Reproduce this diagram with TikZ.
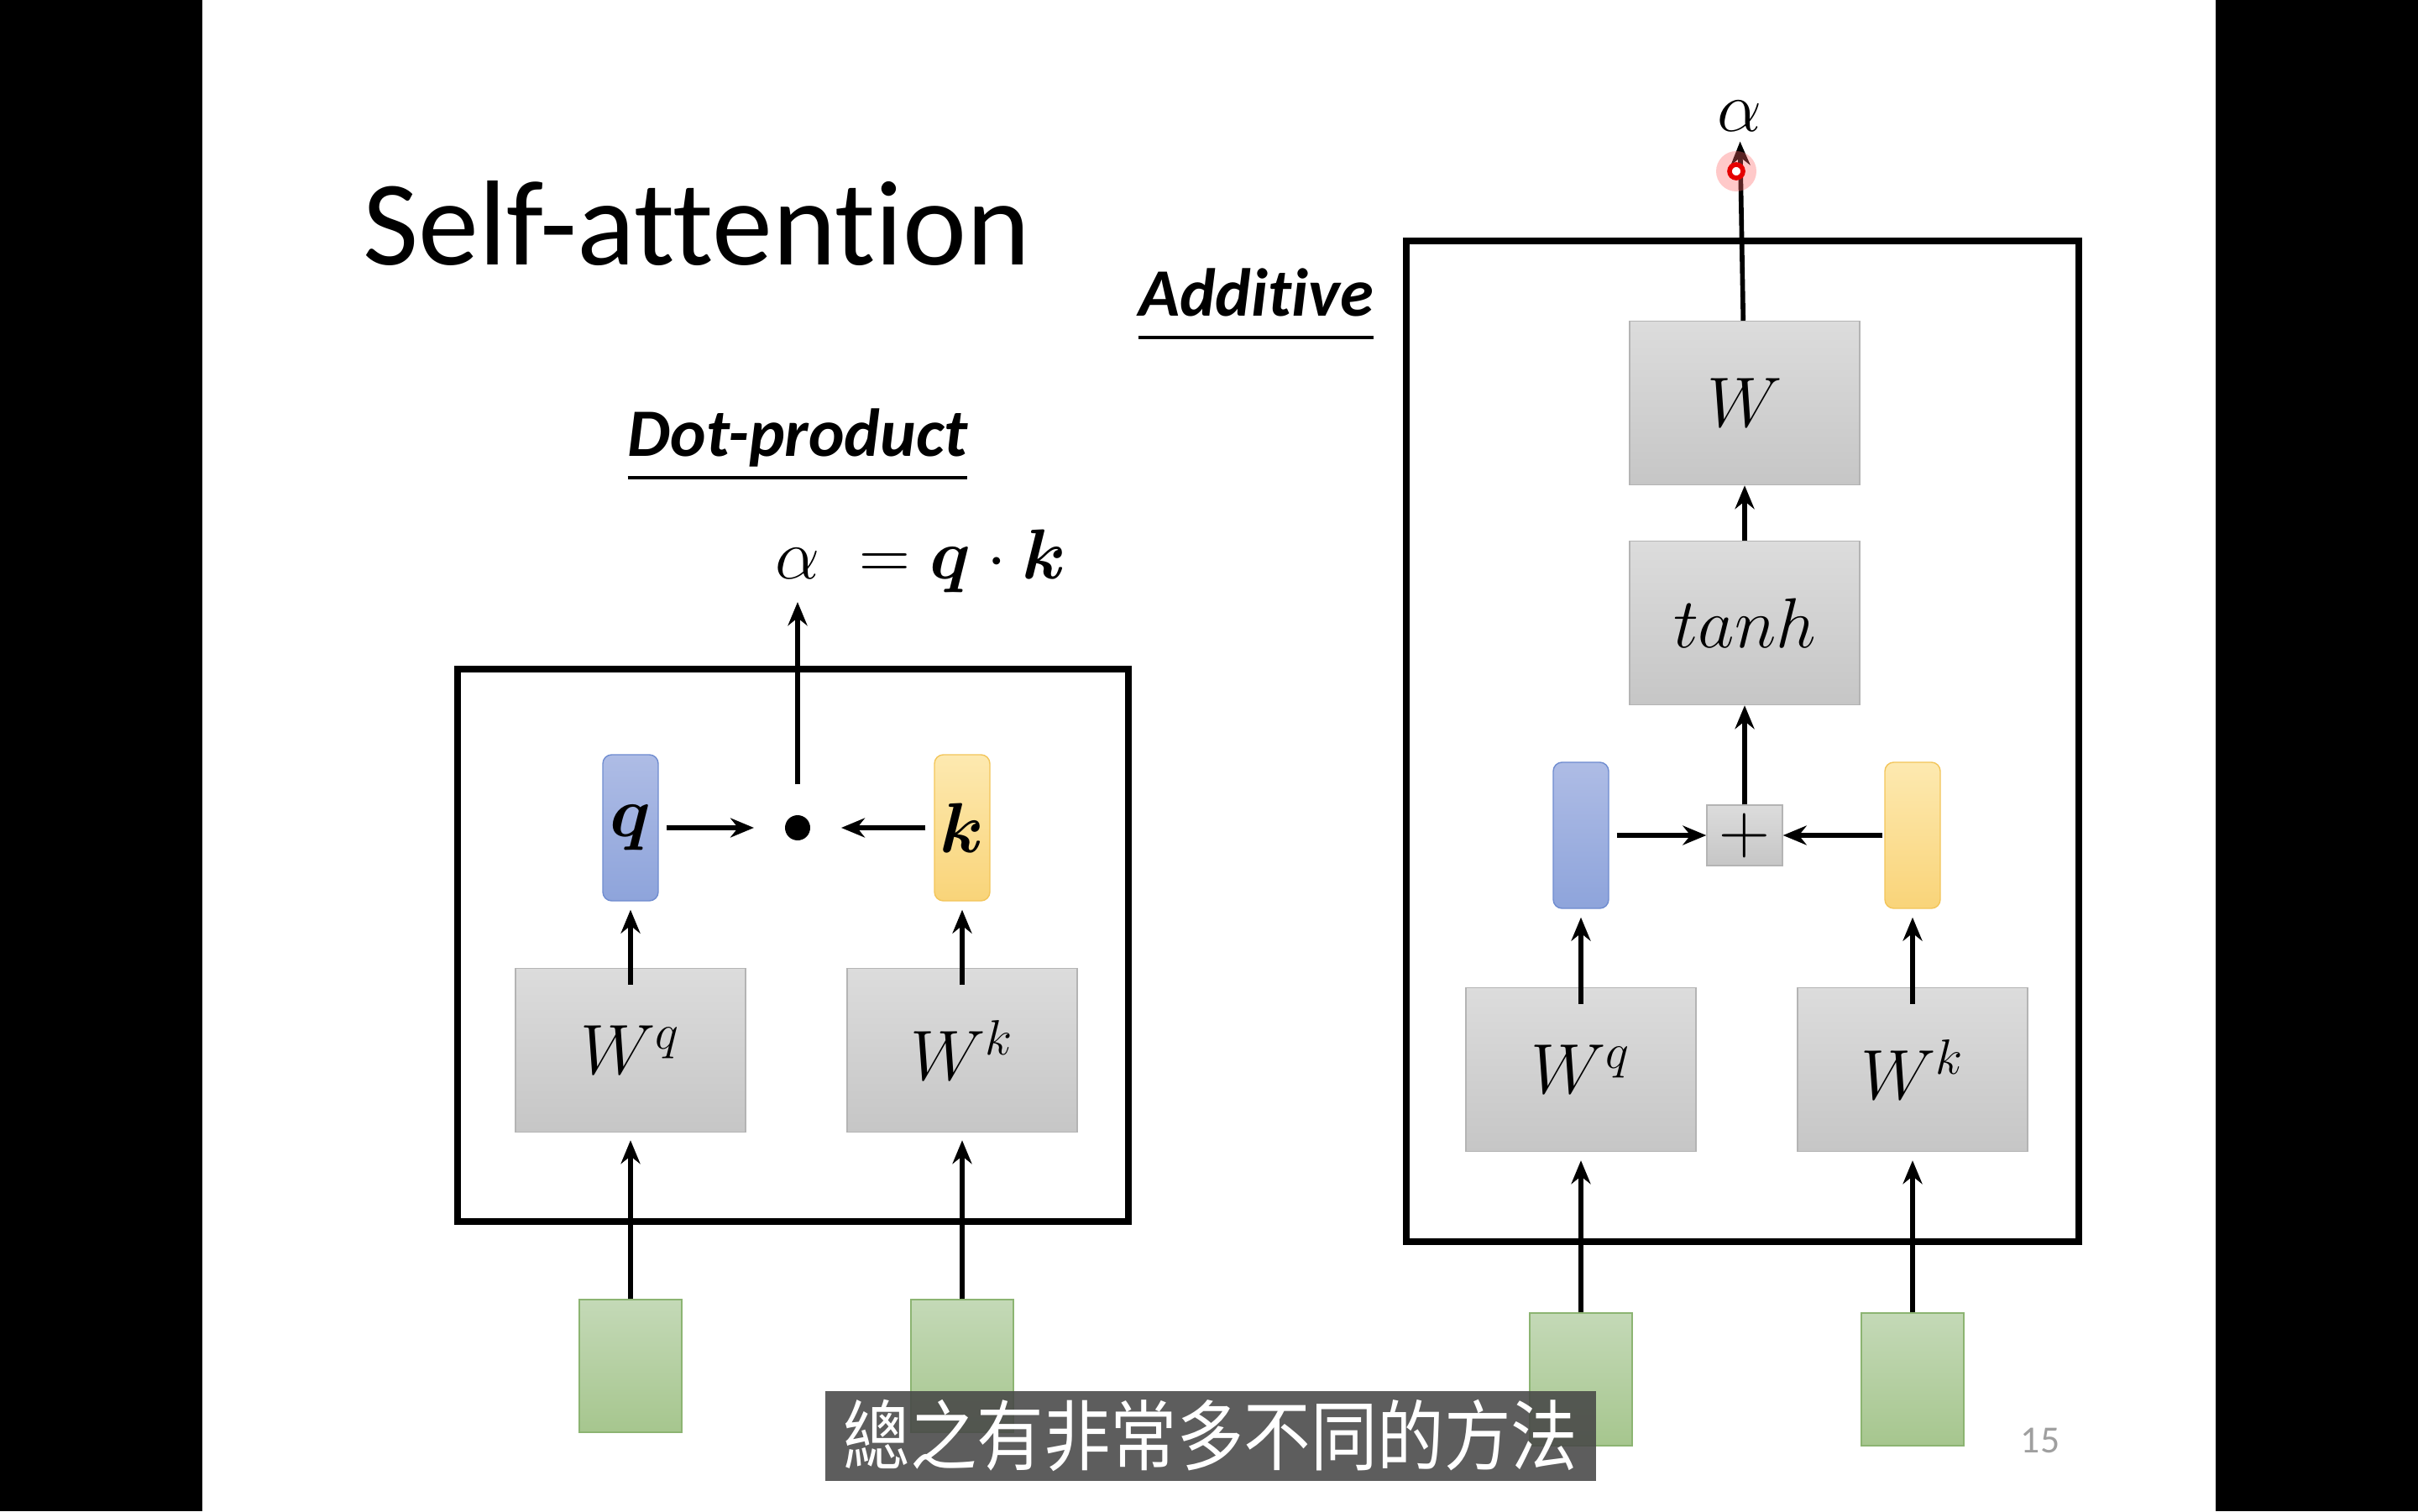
\documentclass[tikz,border=0pt]{standalone}
\usepackage{fix-cm}
\usepackage{amsmath}
\usepackage{bm}
\usepackage[no-math]{fontspec}
\setmainfont{Carlito}[Ligatures=NoCommon]
\newfontfamily\cjk{Noto Sans CJK TC}
\usepackage{tikz}
\usetikzlibrary{arrows.meta, positioning, calc}
\definecolor{graytop}{HTML}{DCDCDC}
\definecolor{graybot}{HTML}{C6C6C6}
\definecolor{grayline}{HTML}{B4B4B4}
\definecolor{qtop}{HTML}{AEBCE5}
\definecolor{qbot}{HTML}{8EA4DB}
\definecolor{qline}{HTML}{6F8CD0}
\definecolor{ktop}{HTML}{FDE9B0}
\definecolor{kbot}{HTML}{F9D479}
\definecolor{kline}{HTML}{F3C55A}
\definecolor{xtop}{HTML}{C4D9B7}
\definecolor{xbot}{HTML}{A6C68E}
\definecolor{xline}{HTML}{8CB472}
\newcommand{\mathbig}{\fontsize{24}{28}\selectfont}
\tikzstyle{weight} = [rectangle, draw=grayline, top color=graytop, bottom color=graybot, minimum width=2.74cm, minimum height=1.95cm, font=\mathbig]
\tikzstyle{qvec} = [rectangle, rounded corners=3pt, draw=qline, top color=qtop, bottom color=qbot, minimum width=0.66cm, minimum height=1.74cm, inner sep=0pt, font=\mathbig]
\tikzstyle{kvec} = [rectangle, rounded corners=3pt, draw=kline, top color=ktop, bottom color=kbot, minimum width=0.66cm, minimum height=1.74cm, inner sep=0pt, font=\mathbig]
\tikzstyle{inputbox} = [rectangle, draw=xline, top color=xtop, bottom color=xbot, minimum width=1.22cm, minimum height=1.58cm]
\tikzstyle{addbox} = [rectangle, draw=grayline, top color=graytop, bottom color=graybot, minimum width=0.9cm, minimum height=0.72cm, inner sep=0pt, font=\mathbig]
\tikzstyle{dotprod} = [circle, fill=black, inner sep=0pt, minimum size=0.3cm, outer sep=0.37cm]
\tikzstyle{flow} = [-{Stealth[length=2.8mm, width=2.3mm]}, line width=1.6pt]
\tikzstyle{fromweight} = [flow, shorten <=-0.2cm, shorten >=0.1cm]
\tikzstyle{outerbox} = [draw, line width=2.2pt]

\begin{document}
\begin{tikzpicture}
    \useasboundingbox (0,0) rectangle (28.8,18);
    % Slide
    \fill[black] (0,0) rectangle (28.8,18);
    \fill[white] (2.41,0) rectangle (26.39,18);

    % Titles
    \node[anchor=base west, inner sep=0pt, font=\fontsize{41}{48}\selectfont] (title) at (4.32,14.84) {Self-attention};
    \node[anchor=base, inner sep=0pt, font=\fontsize{23}{28}\selectfont\bfseries\itshape] (dotname) at (9.50,12.56) {\underline{Dot-product}};
    \node[anchor=base, inner sep=0pt, font=\fontsize{23}{28}\selectfont\bfseries\itshape] (addname) at (14.96,14.23) {\underline{Additive\vphantom{p}}};

    % Dot-product
    \draw[outerbox] (5.45,3.45) rectangle (13.44,10.03);
    \node[inputbox] (x1) at (7.51,1.73) {};
    \node[inputbox] (x2) at (11.46,1.73) {};
    \node[weight] (wq1) at (7.51,5.49) {$W^q$};
    \node[weight] (wk1) at (11.46,5.49) {$W^k$};
    \node[qvec] (q1) at (7.51,8.14) {$\bm{q}$};
    \node[kvec] (k1) at (11.46,8.14) {$\bm{k}$};
    \node[dotprod] (dot1) at (9.50,8.14) {};
    \node[anchor=base west, inner sep=0pt, font=\mathbig] (alpha1) at (9.23,11.10) {$\alpha\;=\bm{q}\cdot\bm{k}$};

    \draw[flow, shorten >=0.09cm] (x1) -- (wq1);
    \draw[flow, shorten >=0.09cm] (x2) -- (wk1);
    \draw[fromweight] (wq1) -- (q1);
    \draw[fromweight] (wk1) -- (k1);
    \draw[flow, shorten <=0.09cm] (q1) -- (dot1);
    \draw[flow, shorten <=0.1cm] (k1) -- (dot1);
    \draw[flow, shorten >=0.1cm] (dot1) -- (dot1 |- alpha1.south);

    % Additive
    \draw[outerbox] (16.75,3.21) rectangle (24.76,15.13);
    \node[inputbox] (x3) at (18.83,1.57) {};
    \node[inputbox] (x4) at (22.78,1.57) {};
    \node[weight] (wq2) at (18.83,5.26) {$W^q$};
    \node[weight] (wk2) at (22.78,5.26) {$W^k$};
    \node[qvec] (q2) at (18.83,8.05) {};
    \node[kvec] (k2) at (22.78,8.05) {};
    \node[addbox] (plus2) at (20.78,8.05) {$+$};
    \node[weight] (tanh2) at (20.78,10.58) {$tanh$};
    \node[weight] (w2) at (20.78,13.20) {$W$};
    \node[font=\mathbig] (alpha2) at (20.72,16.62) {$\alpha$};

    \draw[flow, shorten >=0.1cm] (x3) -- (wq2);
    \draw[flow, shorten >=0.1cm] (x4) -- (wk2);
    \draw[fromweight] (wq2) -- (q2);
    \draw[fromweight] (wk2) -- (k2);
    \draw[flow, shorten <=0.09cm] (q2) -- (plus2);
    \draw[flow, shorten <=0.02cm] (k2) -- (plus2);
    \draw[flow] (plus2) -- (tanh2);
    \draw[flow] (tanh2) -- (w2);
    \draw[flow] (w2) -- (alpha2);

    % pointer
    \fill[red!60, opacity=0.35] (20.68,15.96) circle (0.24);
    \draw[red!90!black, line width=1.6pt, fill=white] (20.68,15.96) circle (0.08);

    % Footer
    \node[text=gray!75, font=\fontsize{13}{15}\selectfont] (pagenum) at (24.30,0.84) {15};
    \node[fill=black!72, fill opacity=0.88, text opacity=1, text=white, minimum width=9.18cm, minimum height=1.07cm, inner sep=0pt, font=\cjk\fontsize{26}{30}\selectfont] (subtitle) at (14.42,0.90) {\scalebox{0.87}[1]{總之有非常多不同的方法}};
\end{tikzpicture}
\end{document}
